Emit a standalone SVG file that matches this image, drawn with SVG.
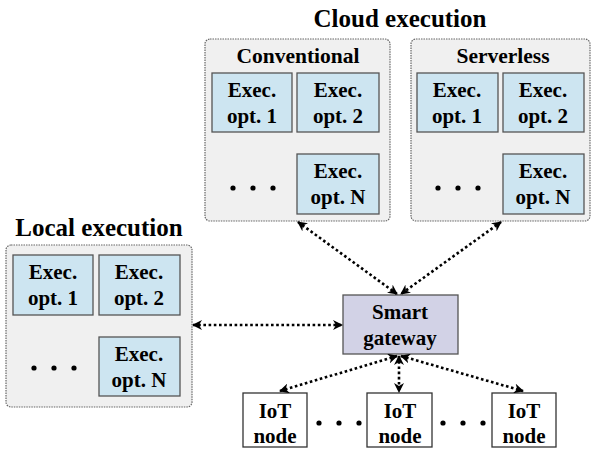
<svg xmlns="http://www.w3.org/2000/svg" width="592" height="451" viewBox="0 0 592 451">
<defs>
<marker id="ah" viewBox="0 0 10 10" refX="9" refY="5" markerWidth="10" markerHeight="10" markerUnits="userSpaceOnUse" orient="auto-start-reverse">
<path d="M0,0 L10,5 L0,10 L3,5 z" fill="#000"/>
</marker>
</defs>
<style>
.t{font-weight:bold;fill:#000;text-anchor:middle}
.title{font-size:25px}
.hdr{font-size:21.5px}
.lbl{font-size:21px}
.cont{fill:#f0f0f0;stroke:#666;stroke-width:1.2;stroke-dasharray:1.5 1}
.ex{fill:#cde5f1;stroke:#555;stroke-width:1.3}
.gw{fill:#d2d2e6;stroke:#555;stroke-width:1.3}
.iot{fill:#fff;stroke:#333;stroke-width:1.3}
.dot{fill:#000}
.con{fill:none;stroke:#000;stroke-width:2.6;stroke-dasharray:2.6 2.6;marker-start:url(#ah);marker-end:url(#ah)}
</style>
<rect width="592" height="451" fill="#fff"/>
<g font-family="Liberation Serif, Times New Roman, serif">

<text class="t title" x="400" y="27">Cloud execution</text>
<text class="t title" x="99" y="236">Local execution</text>

<g id="conventional">
<rect class="cont" x="205" y="39" width="185" height="182" rx="5"/>
<text class="t hdr" x="298" y="63">Conventional</text>
<g id="conv-opt1"><rect class="ex" x="212" y="73" width="80" height="59"/><text class="t lbl" x="252" y="97">Exec.</text><text class="t lbl" x="252" y="123">opt. 1</text></g>
<g id="conv-opt2"><rect class="ex" x="297" y="73" width="82" height="59"/><text class="t lbl" x="338" y="97">Exec.</text><text class="t lbl" x="338" y="123">opt. 2</text></g>
<g id="conv-optN"><rect class="ex" x="297" y="154" width="82" height="60"/><text class="t lbl" x="338" y="178">Exec.</text><text class="t lbl" x="338" y="204">opt. N</text></g>
<circle class="dot" cx="233" cy="188" r="2.6"/><circle class="dot" cx="253" cy="188" r="2.6"/><circle class="dot" cx="273" cy="188" r="2.6"/>
</g>

<g id="serverless">
<rect class="cont" x="411" y="39" width="179" height="182" rx="5"/>
<text class="t hdr" x="503" y="63">Serverless</text>
<g id="srv-opt1"><rect class="ex" x="417" y="73" width="81" height="59"/><text class="t lbl" x="457" y="97">Exec.</text><text class="t lbl" x="457" y="123">opt. 1</text></g>
<g id="srv-opt2"><rect class="ex" x="503" y="73" width="81" height="59"/><text class="t lbl" x="543" y="97">Exec.</text><text class="t lbl" x="543" y="123">opt. 2</text></g>
<g id="srv-optN"><rect class="ex" x="503" y="154" width="81" height="60"/><text class="t lbl" x="543" y="178">Exec.</text><text class="t lbl" x="543" y="204">opt. N</text></g>
<circle class="dot" cx="438" cy="188" r="2.6"/><circle class="dot" cx="458" cy="188" r="2.6"/><circle class="dot" cx="478" cy="188" r="2.6"/>
</g>

<g id="local">
<rect class="cont" x="6" y="245" width="186" height="162" rx="5"/>
<g id="loc-opt1"><rect class="ex" x="13" y="255" width="80" height="60"/><text class="t lbl" x="53" y="279">Exec.</text><text class="t lbl" x="53" y="305">opt. 1</text></g>
<g id="loc-opt2"><rect class="ex" x="99" y="255" width="81" height="60"/><text class="t lbl" x="139" y="279">Exec.</text><text class="t lbl" x="139" y="305">opt. 2</text></g>
<g id="loc-optN"><rect class="ex" x="99" y="337" width="81" height="59"/><text class="t lbl" x="139" y="361">Exec.</text><text class="t lbl" x="139" y="387">opt. N</text></g>
<circle class="dot" cx="34" cy="368" r="2.6"/><circle class="dot" cx="54" cy="368" r="2.6"/><circle class="dot" cx="74" cy="368" r="2.6"/>
</g>

<g id="gateway">
<rect class="gw" x="343" y="295" width="115" height="59"/>
<text class="t lbl" x="400" y="319">Smart</text>
<text class="t lbl" x="400" y="345">gateway</text>
</g>

<g id="iot1"><rect class="iot" x="243" y="393" width="64" height="54"/><text class="t lbl" x="275" y="418">IoT</text><text class="t lbl" x="275" y="443">node</text></g>
<g id="iot2"><rect class="iot" x="367" y="393" width="65" height="54"/><text class="t lbl" x="400" y="418">IoT</text><text class="t lbl" x="400" y="443">node</text></g>
<g id="iot3"><rect class="iot" x="492" y="393" width="64" height="54"/><text class="t lbl" x="524" y="418">IoT</text><text class="t lbl" x="524" y="443">node</text></g>
<g id="iot-dots">
<circle class="dot" cx="319" cy="423" r="2.6"/><circle class="dot" cx="339" cy="423" r="2.6"/><circle class="dot" cx="359" cy="423" r="2.6"/>
<circle class="dot" cx="443" cy="423" r="2.6"/><circle class="dot" cx="463" cy="423" r="2.6"/><circle class="dot" cx="483" cy="423" r="2.6"/>
</g>

<g id="connectors">
<line class="con" x1="193" y1="325" x2="342" y2="325"/>
<line class="con" x1="298" y1="222" x2="397" y2="294"/>
<line class="con" x1="501" y1="222" x2="401" y2="294"/>
<line class="con" x1="397" y1="356" x2="280" y2="391"/>
<line class="con" x1="399" y1="356" x2="399" y2="392"/>
<line class="con" x1="401" y1="356" x2="523" y2="391"/>
</g>
</g>
</svg>
